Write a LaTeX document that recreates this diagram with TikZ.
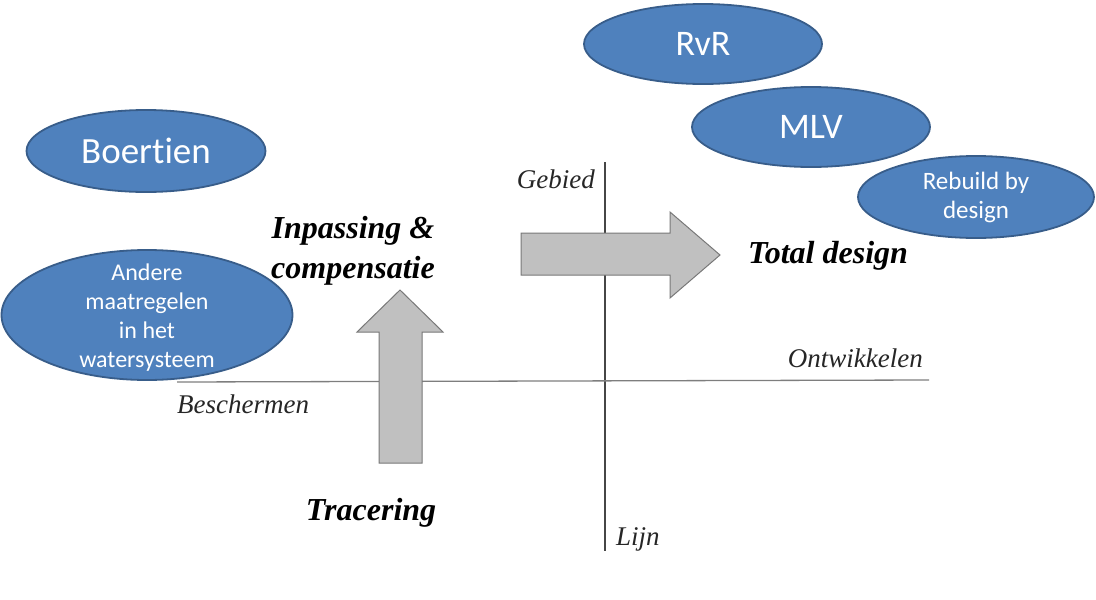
\documentclass[tikz,border=0pt]{standalone}
\usepackage{fontspec}
\setmainfont{Liberation Serif}
\newfontfamily\calib[Ligatures=NoCommon,RawFeature={-liga;-calt;-dlig}]{Carlito}
\usetikzlibrary{shapes.geometric}
\definecolor{ellfill}{HTML}{4F81BD}
\definecolor{elldraw}{HTML}{385D8A}
\definecolor{arrfill}{RGB}{192,192,192}
\definecolor{arrdraw}{RGB}{120,120,120}
\definecolor{axis}{RGB}{70,70,70}
\tikzset{
  blob/.style={ellipse, fill=ellfill, draw=elldraw, line width=1.8pt, inner sep=0pt, text=white, align=center, font=\calib},
  axislbl/.style={font=\fontsize{27}{30}\selectfont\itshape, inner sep=0pt, text=black!85},
  quadlbl/.style={font=\fontsize{32}{40}\selectfont\bfseries\itshape, inner sep=0pt, align=center},
  fatarrow/.style={fill=arrfill, draw=arrdraw, line width=1pt, line join=miter},
  axisline/.style={draw=axis, line width=1.3pt}
}
\begin{document}
\begin{tikzpicture}[x=1pt,y=-1pt]
\useasboundingbox (0,0) rectangle (1096,600);
% axes
\coordinate (top) at (605,162);
\coordinate (bot) at (605,551);
\coordinate (lft) at (177,382);
\coordinate (rgt) at (929,380);
\draw[axisline] (top) -- (bot);
\draw[axisline, draw=axis!70] (lft) -- (rgt);
% axis labels
\node[axislbl, anchor=base east] (gebied) at (595,188) {Gebied};
\node[axislbl, anchor=base east] (ontw) at (923,367) {Ontwikkelen};
\node[axislbl, anchor=base west] (besch) at (177,413) {Beschermen};
\node[axislbl, anchor=base west] (lijn) at (616,545) {Lijn};
% fat arrows
\draw[fatarrow] (379,463) -- (379,332) -- (357,332) -- (400,290) -- (443,332) -- (422,332) -- (422,463) -- cycle;
\draw[fatarrow] (521,233) -- (670,233) -- (670,212) -- (720,255) -- (670,298) -- (670,275) -- (521,275) -- cycle;
% quadrant labels
\node[quadlbl] (inp) at (353,251) {Inpassing \&\\compensatie};
\node[quadlbl, anchor=base] (trac) at (371,520) {Tracering};
\node[quadlbl, anchor=base west] (total) at (748,263) {Total design};
% ellipses
\node[blob, minimum width=238pt, minimum height=80pt, font=\calib\fontsize{36}{40}\selectfont] (rvr) at (703,44) {RvR};
\node[blob, minimum width=238pt, minimum height=80pt, font=\calib\fontsize{36}{40}\selectfont] (mlv) at (811,127) {MLV};
\node[blob, minimum width=236pt, minimum height=82pt, font=\calib\fontsize{25}{29}\selectfont] (rbd) at (976,197) {Rebuild by\\design};
\node[blob, minimum width=239pt, minimum height=82pt, font=\calib\fontsize{37}{40}\selectfont] (boer) at (146,151) {Boert\kern0pt ien};
\node[blob, minimum width=291pt, minimum height=130pt,
  label={[text=white, align=center, inner sep=0pt, yshift=-3pt, font=\calib\fontsize{24}{29}\selectfont]center:{Andere\\maatregelen\\in het\\watersysteem}}] (andere) at (147,315) {};
\end{tikzpicture}
\end{document}
